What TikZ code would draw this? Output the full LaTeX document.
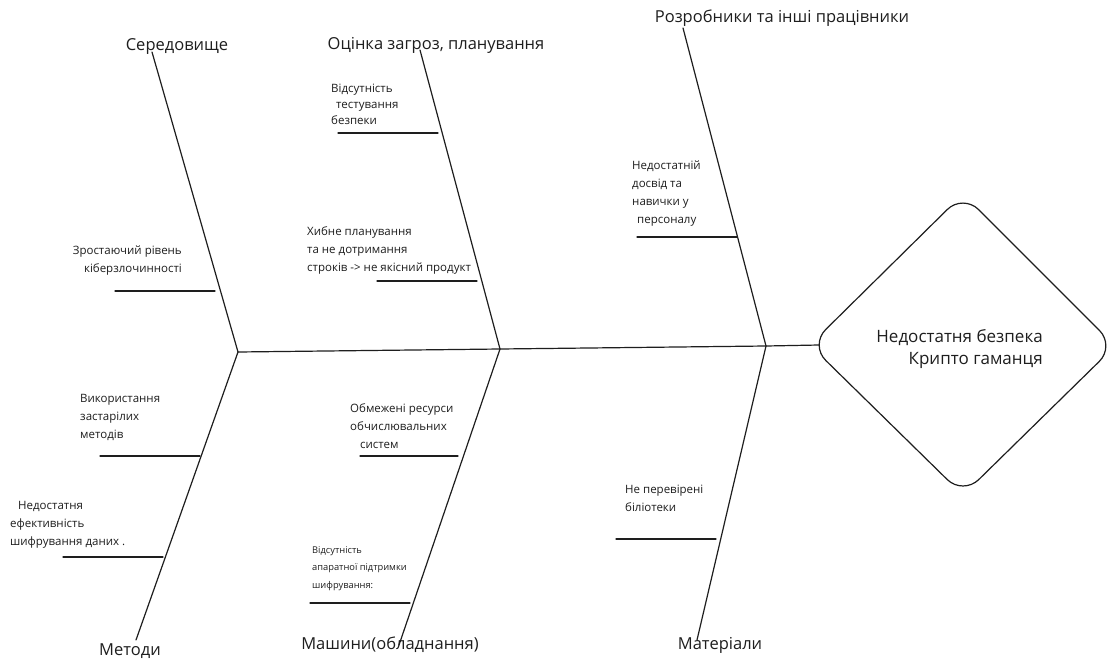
\documentclass[tikz,border=0pt]{standalone}
\usepackage{fontspec}
\setmainfont{Open Sans}
\definecolor{ink}{HTML}{1E1E1E}
\begin{document}
\begin{tikzpicture}[x=1pt,y=-1pt,
  bone/.style={draw=ink, line width=1.2pt, line cap=round},
  twig/.style={draw=ink, line width=1.1pt, line cap=round},
  cause/.style={font=\fontsize{11.5}{18}\selectfont, text=ink, align=left, anchor=north west, inner sep=0pt},
  category/.style={font=\fontsize{16.5}{18}\selectfont, text=ink, inner sep=0pt},
  goaltext/.style={font=\fontsize{17}{22}\selectfont, text=ink, align=right, inner sep=0pt}]
\fill[white] (0,0) rectangle (1107,666);
\useasboundingbox (0,0) rectangle (1107,666);

% head of the fish: rounded diamond
\coordinate (dl) at (810,345);
\coordinate (dt) at (963,194);
\coordinate (dr) at (1115,346);
\coordinate (db) at (963,495);
\draw[bone, rounded corners=22pt] (886.5,269.5) -- (dt) -- (dr) -- (db) -- (dl) -- cycle;
\node[goaltext, anchor=east] (goal) at (1043,349) {Недостатня безпека\\Крипто гаманця};

% spine
\coordinate (tail) at (238,352);
\coordinate (j1) at (500,349);
\coordinate (j2) at (766,346);
\coordinate (headin) at (819,345);
\draw[bone] (tail) -- (j1) -- (j2) -- (headin);

% category labels
\node[category] (env)   at (177,47)  {Середовище};
\node[category] (plan)  at (436,45)  {Оцінка загроз, планування};
\node[category] (staff) at (782,18)  {Розробники та інші працівники};
\node[category] (meth)  at (130,651) {Методи};
\node[category] (mach)  at (390,645) {Машини(обладнання)};
\node[category] (mat)   at (720,645) {Матеріали};

% bones
\coordinate (envtip)   at (152,52);
\coordinate (plantip)  at (420,50);
\coordinate (stafftip) at (683,28);
\coordinate (methtip)  at (136,640);
\coordinate (machtip)  at (399,645);
\coordinate (mattip)   at (697,640);
\draw[bone] (envtip) -- (tail);
\draw[bone] (plantip) -- (j1);
\draw[bone] (stafftip) -- (j2);
\draw[bone] (tail) -- (methtip);
\draw[bone] (j1) -- (machtip);
\draw[bone] (j2) -- (mattip);

% causes
\node[cause, font=\fontsize{11.5}{16}\selectfont] (c1) at (331,84)
  {Відсутність\\\hspace*{5pt}тестування\\безпеки};
\node[cause] (c2) at (307,226)
  {Хибне планування\\та не дотримання\\строків -> не якісний продукт};
\node[cause, align=right, anchor=north east] (c3) at (182,246)
  {Зростаючий рівень\\кіберзлочинності};
\node[cause] (c4) at (632,161)
  {Недостатній\\досвід та\\навички у\\\hspace*{5pt}персоналу};
\node[cause] (c5) at (80,394)
  {Використання\\застарілих\\методів};
\node[cause] (c6) at (10,501)
  {\hspace*{8pt}Недостатня\\ефективність\\шифрування даних .};
\node[cause] (c7) at (350,403)
  {Обмежені ресурси\\обчислювальних\\\hspace*{10pt}систем};
\node[cause, font=\fontsize{9.3}{17.5}\selectfont] (c8) at (312,546)
  {Відсутність\\апаратної підтримки\\шифрування:};
\node[cause] (c9) at (625,485)
  {Не перевірені\\біліотеки};

% twigs under the causes
\coordinate (t1a) at (338,133); \coordinate (t1b) at (438,133);
\coordinate (t2a) at (377,281); \coordinate (t2b) at (477,281);
\coordinate (t3a) at (115,291); \coordinate (t3b) at (215,291);
\coordinate (t4a) at (637,237); \coordinate (t4b) at (737,237);
\coordinate (t5a) at (100,456); \coordinate (t5b) at (200,456);
\coordinate (t6a) at (63,557);  \coordinate (t6b) at (163,557);
\coordinate (t7a) at (360,456); \coordinate (t7b) at (458,456);
\coordinate (t8a) at (310,603); \coordinate (t8b) at (410,603);
\coordinate (t9a) at (616,539); \coordinate (t9b) at (716,539);
\foreach \k in {1,...,9} \draw[twig] (t\k a) -- (t\k b);
\end{tikzpicture}
\end{document}
